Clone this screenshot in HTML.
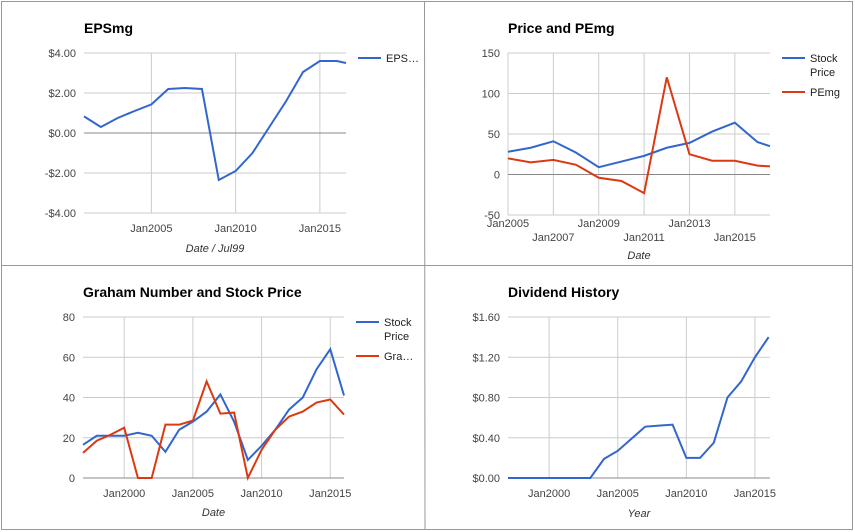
<!DOCTYPE html>
<html><head><meta charset="utf-8"><style>
body{margin:0;background:#fff;width:855px;height:532px;overflow:hidden}
svg{display:block;font-family:"Liberation Sans",Arial,sans-serif}
</style></head><body>
<svg id="c" width="855" height="532" viewBox="0 0 855 532">
<rect x="1.5" y="1.5" width="851" height="528" fill="#fff" stroke="#999"/>
<line x1="424.5" y1="1" x2="425" y2="530" stroke="#999"/>
<line x1="1" y1="265.5" x2="852" y2="265.5" stroke="#999"/>
</svg>
<script>
// EPSmg chart
const epsYears=[2001,2002,2003,2004,2005,2006,2007,2008,2009,2010,2011,2012,2013,2014,2015,2016,2016.55];
const epsValues=[0.83,0.3,0.75,1.1,1.43,2.2,2.25,2.2,-2.35,-1.9,-1.0,0.3,1.6,3.05,3.6,3.6,3.5];
const epsTicks=[4,2,0,-2,-4];
const epsTickLabels=["$4.00","$2.00","$0.00","-$2.00","-$4.00"];
// Price and PEmg chart
const pYears=[2005,2006,2007,2008,2009,2010,2011,2012,2013,2014,2015,2016,2016.55];
const pStock=[28,33,41,27,9,16,23,33,39,53,64,40,35];
const pPE=[20,15,18,12,-4,-8,-23,120,25,17,17,11,10];
const pTicks=[150,100,50,0,-50];
// Graham chart
const gYears=[1997,1998,1999,2000,2001,2002,2003,2004,2005,2006,2007,2008,2009,2010,2011,2012,2013,2014,2015,2016];
const gStock=[16.5,21,21,21,22.5,21,13,24,28,33,41.5,28,9,16,24,34,40,54,64,41];
const gGraham=[12.5,18.5,21.5,25,0,0,26.5,26.5,28.5,48,32,32.5,0,14,24,30.5,33,37.5,39,31.5];
const gTicks=[80,60,40,20,0];
// Dividend chart
const dYears=[1997,1998,1999,2000,2001,2002,2003,2004,2005,2006,2007,2008,2009,2010,2011,2012,2013,2014,2015,2016];
const dValues=[0,0,0,0,0,0,0,0.19,0.27,0.39,0.51,0.52,0.53,0.2,0.2,0.35,0.8,0.96,1.2,1.4];
const dTicks=[1.6,1.2,0.8,0.4,0];
const dTickLabels=["$1.60","$1.20","$0.80","$0.40","$0.00"];

const svg=document.getElementById('c');
const NS='http://www.w3.org/2000/svg';
function mk(tag,attrs,parent,text){const e=document.createElementNS(NS,tag);for(const k in attrs)e.setAttribute(k,attrs[k]);if(text!==undefined)e.textContent=text;(parent||svg).appendChild(e);return e;}

function chart(o){
  const g=mk('g',{});
  
  
  const xs=v=>o.x0+(v-o.xmin)/(o.xmax-o.xmin)*(o.x1-o.x0);
  const ys=v=>o.y1-(v-o.ymin)/(o.ymax-o.ymin)*(o.y1-o.y0);
  const t=mk('text',{x:o.x0,y:o.y0-20,'font-size':14,'font-weight':'bold',fill:'#000'},g,o.title);
  
  
  o.yticks.forEach((v,i)=>{
    const l=mk('line',{x1:o.x0,x2:o.x1,y1:ys(v),y2:ys(v),stroke:v===0?(o.zeroColor||'#333'):'#ccc','stroke-width':1},g);
    
    
    const tl=mk('text',{x:o.x0-8,y:ys(v)+4,'font-size':11,fill:'#444','text-anchor':'end'},g,o.ylabels?o.ylabels[i]:String(v));
    
    
  });
  o.xticks.forEach((v,i)=>{
    const l=mk('line',{x1:xs(v),x2:xs(v),y1:o.y0,y2:o.y1,stroke:'#ccc'},g);
    
    
    const dy=o.stagger?(i%2?22:8):15;
    const tl=mk('text',{x:xs(v),y:o.y1+dy+4,'font-size':11,fill:'#444','text-anchor':'middle'},g,'Jan'+v);
    
    
  });
  if(o.baseline!==undefined){
    const b=mk('line',{x1:o.x0,x2:o.x1,y1:ys(o.baseline),y2:ys(o.baseline),stroke:'#888','stroke-width':1},g);
    
    
  }
  o.series.forEach(s=>{
    const p=mk('polyline',{points:s.vals.map((v,i)=>xs(s.xs[i])+','+ys(v)).join(' '),fill:'none',stroke:s.color,'stroke-width':2},g);
    
    
  });
  const xt=mk('text',{x:(o.x0+o.x1)/2,y:o.xtY,'font-size':11,'font-style':'italic',fill:'#333','text-anchor':'middle'},g,o.xtitle);
  
  
  const cy=(o.y0+o.y1)/2;
  const yt=mk('text',{x:o.ytX,y:cy,'font-size':11,'font-style':'italic',fill:'#333','text-anchor':'middle',transform:'rotate(-90 '+o.ytX+' '+cy+')'},g,o.ytitle);
  
  
  let ly=o.y0+5;
  o.series.forEach(s=>{
    if(!s.legend)return;
    const lg=mk('g',{},g);
    
    
    mk('line',{x1:o.lx,x2:o.lx+23,y1:ly,y2:ly,stroke:s.color,'stroke-width':2},lg);
    s.legend.forEach((ln,k)=>mk('text',{x:o.lx+28,y:ly+4+k*14,'font-size':11,fill:'#222'},lg,ln));
    ly+=s.legend.length*14+6;
  });
}

chart({name:'epsmg-chart',title:'EPSmg',x0:84,x1:346,y0:53,y1:213,xmin:2001,xmax:2016.55,ymin:-4,ymax:4,
  yticks:epsTicks,ylabels:epsTickLabels,xticks:[2005,2010,2015],baseline:0,xtitle:'Date / Jul99',xtY:252,ytX:40,lx:358,
  series:[{id:'epsmg',xs:epsYears,vals:epsValues,color:'#3366cc',legend:['EPS…']}]});
chart({name:'price-pemg-chart',title:'Price and PEmg',x0:508,x1:770,y0:53,y1:215,xmin:2005,xmax:2016.55,ymin:-50,ymax:150,
  yticks:pTicks,xticks:[2005,2007,2009,2011,2013,2015],stagger:true,baseline:0,xtitle:'Date',xtY:259,ytX:456,lx:782,
  series:[{id:'stock-price',xs:pYears,vals:pStock,color:'#3366cc',legend:['Stock','Price']},{id:'pemg',xs:pYears,vals:pPE,color:'#dc3912',legend:['PEmg']}]});
chart({name:'graham-chart',title:'Graham Number and Stock Price',x0:83,x1:344,y0:317,y1:478,xmin:1997,xmax:2016,ymin:0,ymax:80,
  yticks:gTicks,xticks:[2000,2005,2010,2015],baseline:0,xtitle:'Date',xtY:516,ytX:35,lx:356,
  series:[{id:'stock-price',xs:gYears,vals:gStock,color:'#3366cc',legend:['Stock','Price']},{id:'graham-number',xs:gYears,vals:gGraham,color:'#dc3912',legend:['Gra…']}]});
chart({name:'dividend-chart',title:'Dividend History',x0:508,x1:770,y0:317,y1:478,xmin:1997,xmax:2016.1,ymin:0,ymax:1.6,
  yticks:dTicks,ylabels:dTickLabels,xticks:[2000,2005,2010,2015],baseline:0,xtitle:'Year',xtY:517,ytX:451,lx:900,
  series:[{id:'dividend',xs:dYears,vals:dValues,color:'#3366cc'}]});
</script>
</body></html>
